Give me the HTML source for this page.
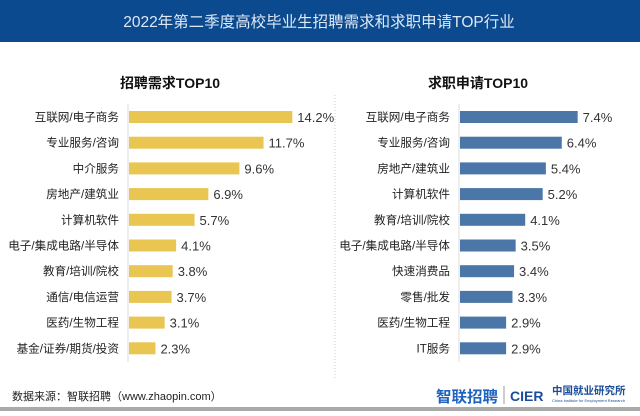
<!DOCTYPE html>
<html><head><meta charset="utf-8"><style>
body{margin:0;width:640px;height:411px;background:#fff;overflow:hidden;font-family:"Liberation Sans","Noto Sans CJK SC",sans-serif;}
svg text{font-family:"Liberation Sans","Noto Sans CJK SC",sans-serif;}
</style></head><body>
<svg width="640" height="411">
<rect x="0" y="0" width="640" height="42" fill="#0b4a8f"/>
<text x="319" y="27" text-anchor="middle" font-size="15.5" fill="#dfe8f5">2022年第二季度高校毕业生招聘需求和求职申请TOP行业</text>
<text x="170" y="88" text-anchor="middle" font-size="14" font-weight="bold" fill="#111">招聘需求TOP10</text>
<text x="478" y="88" text-anchor="middle" font-size="14" font-weight="bold" fill="#111">求职申请TOP10</text>
<line x1="335" y1="95" x2="335" y2="378" stroke="#ccc" stroke-dasharray="1,2"/>
<line x1="128" y1="104" x2="128" y2="362" stroke="#ddd"/>
<line x1="459" y1="104" x2="459" y2="362" stroke="#ddd"/>
<g id="left"></g><g id="right"></g>
<text x="12" y="400" font-size="11" fill="#222">数据来源：智联招聘（www.zhaopin.com）</text>
<text x="436" y="402" font-size="15.5" font-weight="bold" fill="#1f63c0">智联招聘</text>
<line x1="504" y1="386" x2="504" y2="404" stroke="#999"/>
<text x="510" y="401" font-size="14" font-weight="bold" fill="#1a4e9a">CIER</text>
<text x="552" y="394" font-size="10.5" font-weight="bold" fill="#1a4e9a">中国就业研究所</text>
<text x="552" y="402" font-size="4" fill="#1a4e9a">China Institute for Employment Research</text>
<rect x="0" y="407" width="640" height="4" fill="#aaa"/>
</svg>
<script>
const leftCats=["互联网/电子商务","专业服务/咨询","中介服务","房地产/建筑业","计算机软件","电子/集成电路/半导体","教育/培训/院校","通信/电信运营","医药/生物工程","基金/证券/期货/投资"];
const leftVals=[14.2,11.7,9.6,6.9,5.7,4.1,3.8,3.7,3.1,2.3];
const rightCats=["互联网/电子商务","专业服务/咨询","房地产/建筑业","计算机软件","教育/培训/院校","电子/集成电路/半导体","快速消费品","零售/批发","医药/生物工程","IT服务"];
const rightVals=[7.4,6.4,5.4,5.2,4.1,3.5,3.4,3.3,2.9,2.9];
const NS="http://www.w3.org/2000/svg";
function yPos(i){return 117+i*25.7;}
function draw(gid,cats,vals,x0,k,color,side){
  const g=document.getElementById(gid);
  cats.forEach((c,i)=>{
    const y=yPos(i);
    const t=document.createElementNS(NS,"text");
    t.setAttribute("x",x0-9);t.setAttribute("y",y+4);t.setAttribute("text-anchor","end");
    t.setAttribute("font-size","11.6");t.setAttribute("fill","#222");t.textContent=c;
    
    
    g.appendChild(t);
    const w=vals[i]*k;
    const r=document.createElementNS(NS,"rect");
    r.setAttribute("x",x0+1);r.setAttribute("y",y-6);r.setAttribute("width",w);r.setAttribute("height",12);r.setAttribute("fill",color);
    
    
    g.appendChild(r);
    const v=document.createElementNS(NS,"text");
    v.setAttribute("x",x0+w+6);v.setAttribute("y",y+5);v.setAttribute("font-size","13");v.setAttribute("fill","#333");
    v.textContent=vals[i].toFixed(1)+"%";
    
    
    g.appendChild(v);
  });
}
draw("left",leftCats,leftVals,128,11.5,"#e9c552","left");
draw("right",rightCats,rightVals,459,15.9,"#4a76a8","right");
</script>
</body></html>
